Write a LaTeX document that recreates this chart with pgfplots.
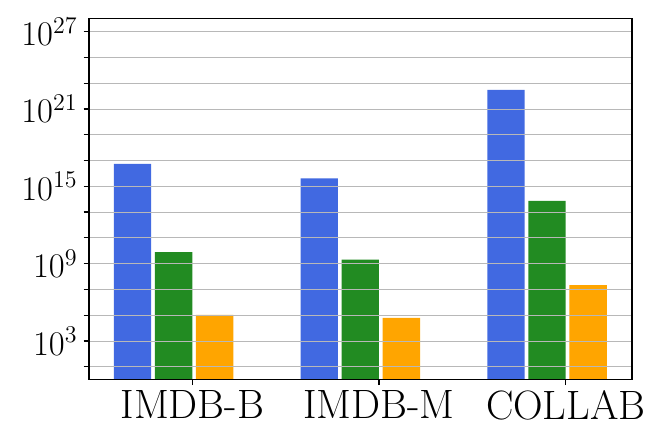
\documentclass[border=0pt]{standalone}
\usepackage{pgfplots}
\pgfplotsset{compat=1.18}
\definecolor{royalblue}{HTML}{4169E1}
\definecolor{forestgreen}{HTML}{228B22}
\definecolor{myorange}{HTML}{FFA500}
\begin{document}
\begin{tikzpicture}
\useasboundingbox (-44.5pt,-31.65pt) rectangle (287.5pt,189.85pt);
\begin{axis}[
  at={(0,0)}, anchor=south west,
  scale only axis, width=271.5pt, height=180.5pt,
  ymode=log, ymin=1, ymax=1e28,
  xmin=-0.553, xmax=2.355,
  log origin=0,
  ybar, bar width=0.2, bar shift=0pt,
  xtick={0,1,2}, xticklabels={IMDB-B,IMDB-M,COLLAB},
  ytick={1e1,1e3,1e5,1e7,1e9,1e11,1e13,1e15,1e17,1e19,1e21,1e23,1e25,1e27},
  yticklabels={,$10^{3}$,,,$10^{9}$,,,$10^{15}$,,,$10^{21}$,,,$10^{27}$},
  minor tick num=0, yminorticks=false,
  tick align=outside, major tick length=2.7pt,
  xtick pos=bottom, ytick pos=left,
  ymajorgrids, grid style={color=black!28, line width=0.4pt},
  axis on top,
  axis line style={line width=0.6pt},
  tick style={line width=0.6pt, black},
  xticklabel style={font=\fontsize{20.5}{22}\selectfont, yshift=1pt},
  yticklabel style={font=\fontsize{18.5}{20}\selectfont, xshift=0.5pt},
]
\addplot[fill=royalblue, draw=none] coordinates {(-0.32,5.4e16) (0.68,4.2e15) (1.68,3.0e22)};
\addplot[fill=forestgreen, draw=none] coordinates {(-0.10,7.9e9) (0.90,2.1e9) (1.90,7.4e13)};
\addplot[fill=myorange, draw=none] coordinates {(0.12,1.05e5) (1.12,6.2e4) (2.12,2.2e7)};
\end{axis}
\end{tikzpicture}
\end{document}
